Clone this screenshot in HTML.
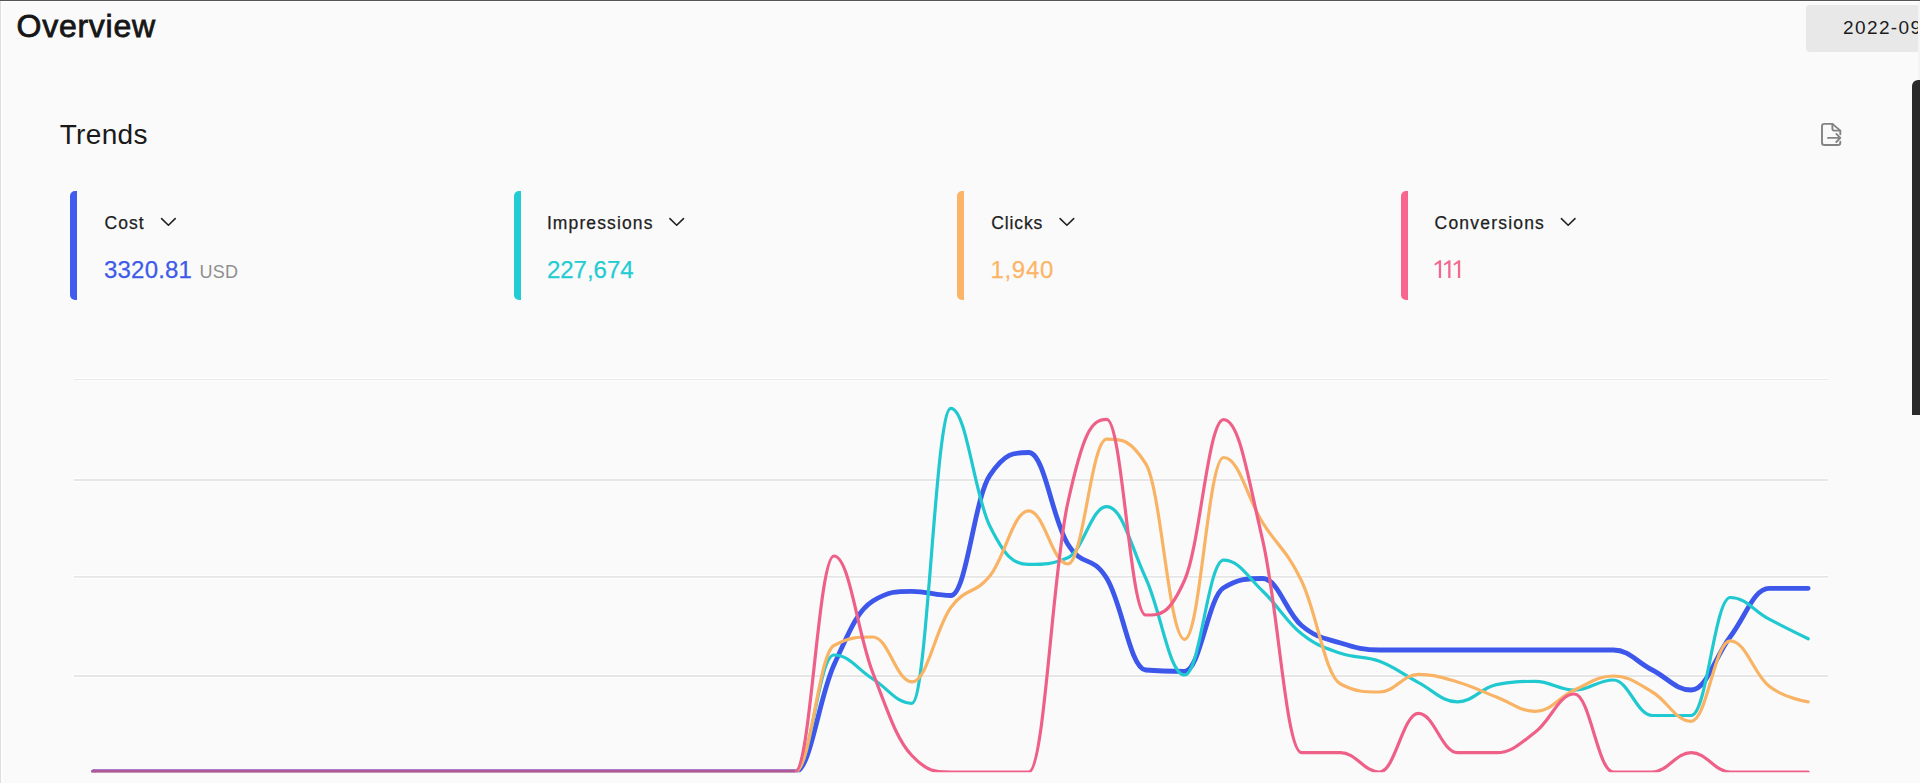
<!DOCTYPE html>
<html><head><meta charset="utf-8"><title>Overview</title>
<style>
*{margin:0;padding:0;box-sizing:border-box}
html,body{width:1920px;height:783px;overflow:hidden;background:#fafafa}
body{position:relative;font-family:"Liberation Sans",sans-serif;color:#1a1a1a}
.abs{position:absolute;white-space:nowrap;line-height:1}
#topline{left:0;top:0;width:1920px;height:2px;background:linear-gradient(#555 0,#555 1px,#fff 1px,#fff 2px)}
#leftline{left:0;top:1px;width:3px;height:782px;background:linear-gradient(90deg,#dedede 0,#dedede 1px,#fdfdfd 1px,#fdfdfd 3px)}
#title{left:16.5px;top:9.5px;font-size:32px;-webkit-text-stroke:0.8px #161616;color:#161616;letter-spacing:0.75px}
#trends{left:59.7px;top:120.7px;font-size:28px;color:#1a1a1a;letter-spacing:0.35px}
#datebox{left:1806px;top:5px;width:114px;height:47px;background:#e8e8e8;border-radius:4px 0 0 4px}
#datetxt{left:1843px;top:18px;font-size:19px;color:#1c1c1c;letter-spacing:1.4px}
#scroll{left:1912px;top:80px;width:8px;height:335px;background:#2a2a2a;border-radius:6px 0 0 0}
.bar{width:7px;height:109px;top:191px;border-radius:5px 0 0 5px}
.lbl{top:215.1px;font-size:17.5px;color:#1e1e1e;-webkit-text-stroke:0.25px #1e1e1e}
.val{top:257.6px;font-size:24px;-webkit-text-stroke:0.25px}
.usd{top:262.8px;font-size:18px;color:#8f8f8f;left:199.6px;letter-spacing:0.2px}
svg{position:absolute;left:0;top:0}
</style></head><body>
<div class="abs" id="topline"></div><div class="abs" id="leftline"></div>
<div class="abs" id="title">Overview</div>
<div class="abs" id="datebox"></div><div class="abs" id="datetxt">2022-09</div>
<div class="abs" id="scroll"></div><div class="abs" style="left:1918.4px;top:2px;width:1.6px;height:78px;background:#f4f4f4"></div>
<div class="abs" id="trends">Trends</div>

<div class="abs bar" style="left:70.2px;background:#3f5cee"></div>
<div class="abs bar" style="left:514px;background:#22ccd4"></div>
<div class="abs bar" style="left:957px;background:#fcb566"></div>
<div class="abs bar" style="left:1401px;background:#f8658f"></div>

<div class="abs lbl" id="l1" style="left:104.50px;letter-spacing:1.080px">Cost</div>
<div class="abs lbl" id="l2" style="left:546.90px;letter-spacing:1.120px">Impressions</div>
<div class="abs lbl" id="l3" style="left:991.20px;letter-spacing:0.900px">Clicks</div>
<div class="abs lbl" id="l4" style="left:1434.60px;letter-spacing:1.200px">Conversions</div>

<div class="abs val" id="v1" style="left:104.00px;letter-spacing:0.200px;color:#3d5ae9">3320.81</div>
<div class="abs usd" id="usd">USD</div>
<div class="abs val" id="v2" style="left:546.90px;letter-spacing:0.000px;color:#22ccd4">227,674</div>
<div class="abs val" id="v3" style="left:990.40px;letter-spacing:0.720px;color:#fcb566">1,940</div>

<svg width="1920" height="783" viewBox="0 0 1920 783" fill="none">
 <defs><clipPath id="cp"><rect x="60" y="370" width="1800" height="402.3"/></clipPath></defs>
 <g stroke="#ffffff" stroke-width="3.6"><path d="M74 480H1828M74 576.9H1828M74 676H1828"/></g>
 <path stroke="#ffffff" stroke-width="2.6" d="M74 379.3H1828"/>
 <g stroke="#e6e6e6" stroke-width="1.9"><path d="M74 480H1828M74 576.9H1828M74 676H1828"/></g>
 <path stroke="#e8e8e8" stroke-width="1.1" d="M74 379.5H1828"/>
 <g stroke="#222" stroke-width="1.6" stroke-linecap="round" stroke-linejoin="round">
  <path d="M161.6 218.6l6.8 6.6 6.8-6.6"/>
  <path d="M669.9 218.6l6.8 6.6 6.8-6.6"/>
  <path d="M1060.1 218.6l6.8 6.6 6.8-6.6"/>
  <path d="M1561.4 218.6l6.8 6.6 6.8-6.6"/>
 </g>
 <path fill="#f3688f" stroke="none" d="M1441.1 260.3V277.9H1438.8V263.3L1435.1 265.6L1434.3 264.0L1439.4 260.3ZM1450.5 260.3V277.9H1448.2V263.3L1444.5 265.6L1443.7 264.0L1448.8 260.3ZM1460.2 260.3V277.9H1457.9V263.3L1454.2 265.6L1453.4 264.0L1458.5 260.3Z"/>
 <g id="exp" stroke="#838383" stroke-width="1.9" stroke-linecap="round" stroke-linejoin="round">
  <path d="M1840.3 134.2V130.6L1832.4 123.9H1824.3a2.3 2.3 0 0 0-2.3 2.3V142.7a2.3 2.3 0 0 0 2.3 2.3H1838a2.3 2.3 0 0 0 2.3-2.3V141.8"/>
  <path d="M1832.4 123.9V128.4a2.2 2.2 0 0 0 2.2 2.2H1840.3"/>
  <path d="M1828 137.9H1840.2M1836.3 133.9l4 4-4 4.1"/>
 </g>
 <g clip-path="url(#cp)" stroke-linecap="round" stroke-linejoin="round">
  <path stroke="#3c57ea" stroke-width="4.8" d="M93.50 772.00 L755.99 772.00 C755.99 772.00 779.37 772.00 794.96 772.00 C810.55 772.00 818.34 699.20 833.93 665.00 C849.52 630.80 857.31 610.70 872.90 601.00 C888.49 591.30 896.28 591.30 911.87 591.30 C927.46 591.30 935.25 595.50 950.84 595.50 C966.43 595.50 974.22 498.10 989.81 475.30 C1005.40 452.50 1013.19 452.50 1028.78 452.50 C1044.37 452.50 1052.16 518.84 1067.75 544.00 C1083.34 569.16 1091.13 553.10 1106.72 578.30 C1122.31 603.50 1130.10 668.70 1145.69 670.00 C1161.28 671.30 1169.07 671.30 1184.66 671.30 C1200.25 671.30 1208.04 597.10 1223.63 587.80 C1239.22 578.50 1247.01 578.50 1262.60 578.50 C1278.19 578.50 1285.98 612.60 1301.57 625.50 C1317.16 638.40 1324.95 638.10 1340.54 643.00 C1356.13 647.90 1363.92 650.00 1379.51 650.00 C1395.10 650.00 1402.89 650.00 1418.48 650.00 C1434.07 650.00 1441.86 650.00 1457.45 650.00 C1473.04 650.00 1480.83 650.00 1496.42 650.00 C1512.01 650.00 1519.80 650.00 1535.39 650.00 C1550.98 650.00 1558.77 650.00 1574.36 650.00 C1589.95 650.00 1597.74 650.00 1613.33 650.00 C1628.92 650.00 1636.71 662.00 1652.30 670.00 C1667.89 678.00 1675.68 690.00 1691.27 690.00 C1706.86 690.00 1714.65 657.04 1730.24 636.70 C1745.83 616.36 1753.62 588.30 1769.21 588.30 C1784.80 588.30 1808.18 588.30 1808.18 588.30"/>
  <path stroke="#20c8d0" stroke-width="3.2" d="M93.50 772.00 L755.99 772.00 C755.99 772.00 779.37 772.00 794.96 772.00 C810.55 772.00 818.34 655.00 833.93 655.00 C849.52 655.00 857.31 669.34 872.90 679.00 C888.49 688.66 896.28 703.30 911.87 703.30 C927.46 703.30 935.25 408.30 950.84 408.30 C966.43 408.30 974.22 494.78 989.81 526.00 C1005.40 557.22 1013.19 564.40 1028.78 564.40 C1044.37 564.40 1052.16 564.40 1067.75 557.70 C1083.34 551.00 1091.13 506.70 1106.72 506.70 C1122.31 506.70 1130.10 544.34 1145.69 578.00 C1161.28 611.66 1169.07 675.00 1184.66 675.00 C1200.25 675.00 1208.04 560.20 1223.63 560.20 C1239.22 560.20 1247.01 576.28 1262.60 591.00 C1278.19 605.72 1285.98 621.34 1301.57 633.80 C1317.16 646.26 1324.95 647.80 1340.54 653.30 C1356.13 658.80 1363.92 655.44 1379.51 661.30 C1395.10 667.16 1402.89 674.48 1418.48 682.60 C1434.07 690.72 1441.86 701.90 1457.45 701.90 C1473.04 701.90 1480.83 687.80 1496.42 684.60 C1512.01 681.40 1519.80 681.40 1535.39 681.40 C1550.98 681.40 1558.77 690.10 1574.36 690.10 C1589.95 690.10 1597.74 680.00 1613.33 680.00 C1628.92 680.00 1636.71 715.50 1652.30 715.50 C1667.89 715.50 1675.68 715.50 1691.27 715.50 C1706.86 715.50 1714.65 597.50 1730.24 597.50 C1745.83 597.50 1753.62 610.94 1769.21 619.20 C1784.80 627.46 1808.18 638.80 1808.18 638.80"/>
  <path stroke="#f9b364" stroke-width="3.2" d="M93.50 772.00 L755.99 772.00 C755.99 772.00 779.37 772.00 794.96 772.00 C810.55 772.00 818.34 654.00 833.93 645.50 C849.52 637.00 857.31 637.00 872.90 637.00 C888.49 637.00 896.28 681.80 911.87 681.80 C927.46 681.80 935.25 628.66 950.84 607.50 C966.43 586.34 974.22 595.34 989.81 576.00 C1005.40 556.66 1013.19 510.80 1028.78 510.80 C1044.37 510.80 1052.16 564.00 1067.75 564.00 C1083.34 564.00 1091.13 439.20 1106.72 439.20 C1122.31 439.20 1130.10 439.20 1145.69 463.70 C1161.28 488.20 1169.07 639.30 1184.66 639.30 C1200.25 639.30 1208.04 457.50 1223.63 457.50 C1239.22 457.50 1247.01 497.90 1262.60 522.60 C1278.19 547.30 1285.98 548.72 1301.57 581.00 C1317.16 613.28 1324.95 676.00 1340.54 684.00 C1356.13 692.00 1363.92 692.00 1379.51 692.00 C1395.10 692.00 1402.89 674.30 1418.48 674.30 C1434.07 674.30 1441.86 677.46 1457.45 682.00 C1473.04 686.54 1480.83 691.12 1496.42 697.00 C1512.01 702.88 1519.80 711.40 1535.39 711.40 C1550.98 711.40 1558.77 697.08 1574.36 690.00 C1589.95 682.92 1597.74 676.00 1613.33 676.00 C1628.92 676.00 1636.71 682.94 1652.30 692.00 C1667.89 701.06 1675.68 721.30 1691.27 721.30 C1706.86 721.30 1714.65 640.80 1730.24 640.80 C1745.83 640.80 1753.62 674.10 1769.21 686.30 C1784.80 698.50 1808.18 701.80 1808.18 701.80"/>
  <path stroke="#ee6088" stroke-width="3.2" d="M93.50 772.00 L755.99 772.00 C755.99 772.00 779.37 772.00 794.96 772.00 C810.55 772.00 818.34 556.00 833.93 556.00 C849.52 556.00 857.31 633.10 872.90 673.00 C888.49 712.90 896.28 739.00 911.87 755.50 C927.46 772.00 935.25 772.00 950.84 772.00 C966.43 772.00 974.22 772.00 989.81 772.00 C1005.40 772.00 1013.19 772.00 1028.78 772.00 C1044.37 772.00 1052.16 573.52 1067.75 503.00 C1083.34 432.48 1091.13 419.40 1106.72 419.40 C1122.31 419.40 1130.10 615.00 1145.69 615.00 C1161.28 615.00 1169.07 615.00 1184.66 580.00 C1200.25 545.00 1208.04 419.60 1223.63 419.60 C1239.22 419.60 1247.01 473.18 1262.60 539.80 C1278.19 606.42 1285.98 752.70 1301.57 752.70 C1317.16 752.70 1324.95 752.70 1340.54 752.70 C1356.13 752.70 1363.92 772.00 1379.51 772.00 C1395.10 772.00 1402.89 713.40 1418.48 713.40 C1434.07 713.40 1441.86 752.70 1457.45 752.70 C1473.04 752.70 1480.83 752.70 1496.42 752.70 C1512.01 752.70 1519.80 743.74 1535.39 732.00 C1550.98 720.26 1558.77 694.00 1574.36 694.00 C1589.95 694.00 1597.74 772.00 1613.33 772.00 C1628.92 772.00 1636.71 772.00 1652.30 772.00 C1667.89 772.00 1675.68 752.70 1691.27 752.70 C1706.86 752.70 1714.65 772.00 1730.24 772.00 C1745.83 772.00 1753.62 772.00 1769.21 772.00 C1784.80 772.00 1808.18 772.00 1808.18 772.00"/>
  <path stroke="#b2579b" stroke-width="4.8" stroke-linecap="butt" d="M93.5 772H795"/>
  <path stroke="#b2579b" stroke-width="4.8" d="M93.5 772h0.01"/>
 </g>
</svg>
</body></html>
